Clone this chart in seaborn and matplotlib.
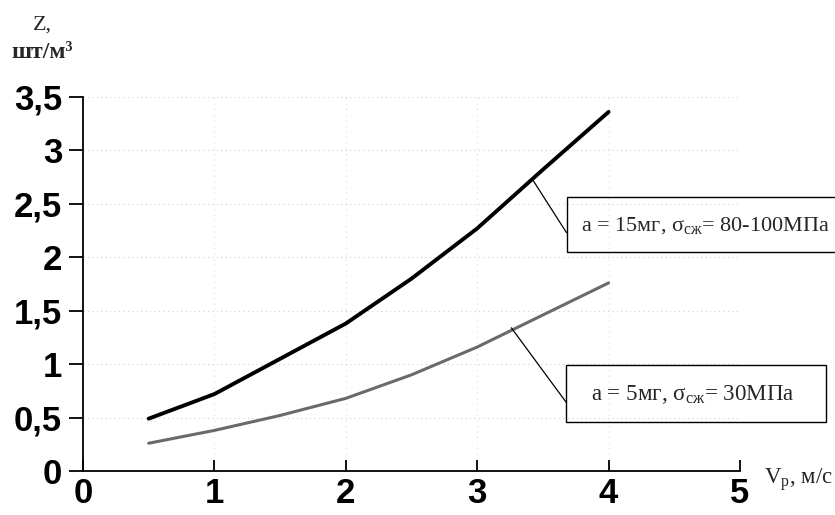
import numpy as np
import pandas as pd
import matplotlib
matplotlib.use("Agg")
import matplotlib.pyplot as plt
import seaborn as sns
from matplotlib.patches import Rectangle

# values
v_speed = [0.5, 1.0, 1.5, 2.0, 2.5, 3.0, 3.5, 4.0]
z_15mg = [0.49, 0.72, 1.05, 1.38, 1.80, 2.27, 2.82, 3.36]
z_5mg = [0.26, 0.38, 0.52, 0.68, 0.90, 1.16, 1.46, 1.76]
y_ticks = [0, 0.5, 1, 1.5, 2, 2.5, 3, 3.5]
y_tick_labels = ["0", "0,5", "1", "1,5", "2", "2,5", "3", "3,5"]
x_ticks = [0, 1, 2, 3, 4, 5]
label_15 = "a = 15мг, $\\mathrm{σ}_{\\mathrm{сж}}$= 80-100МПа"
label_5 = "a = 5мг, $\\mathrm{σ}_{\\mathrm{сж}}$= 30МПа"

sns.set_theme(style="white")
plt.rcParams["font.family"] = ["Liberation Serif", "DejaVu Serif"]
plt.rcParams["mathtext.fontset"] = "custom"
plt.rcParams["mathtext.rm"] = "Liberation Serif"
plt.rcParams["mathtext.it"] = "Liberation Serif:italic"

df = pd.DataFrame({"v": v_speed + v_speed,
                   "z": z_15mg + z_5mg,
                   "series": ["15"] * len(v_speed) + ["5"] * len(v_speed)})

fig = plt.figure(figsize=(8.35, 5.15), dpi=100)
ax = fig.add_axes([0.0994, 0.0854, 0.7868, 0.7263])

sns.lineplot(data=df[df.series == "15"], x="v", y="z", color="black", lw=2.8, ax=ax)
sns.lineplot(data=df[df.series == "5"], x="v", y="z", color="#6a6a6a", lw=2.2, ax=ax)

ax.set_xlim(0, 5)
ax.set_ylim(0, 3.5)
ax.set_xlabel("")
ax.set_ylabel("")
for s in ["top", "right"]:
    ax.spines[s].set_visible(False)
for s in ["left", "bottom"]:
    ax.spines[s].set_color("black")
    ax.spines[s].set_linewidth(1.3)

ax.set_yticks(y_ticks)
ax.set_yticklabels(y_tick_labels)
ax.set_xticks(x_ticks)
for lab in ax.get_xticklabels() + ax.get_yticklabels():
    lab.set_fontfamily("Liberation Sans")
    lab.set_fontweight("bold")
    lab.set_fontsize(25)
ax.tick_params(axis="y", direction="out", length=10, width=1.3, pad=5, colors="black", left=True)
ax.tick_params(axis="x", direction="in", length=8, width=1.3, pad=4, colors="black", bottom=True)

# faint dotted grid
for yv in y_ticks[1:]:
    ax.axhline(yv, color="#d0d0d0", lw=0.8, ls=(0, (1, 3)), zorder=0)
for xv in x_ticks[1:-1]:
    ax.axvline(xv, color="#dddddd", lw=0.8, ls=(0, (1, 4)), zorder=0)

# callout boxes
ax.add_patch(Rectangle((3.68, 2.05), 2.2, 0.514, fill=False, ec="black", lw=1.0, clip_on=False))
ax.text(3.79, 2.30, label_15, fontsize=16, va="center", ha="left", clip_on=False)
ax.annotate("", xy=(3.42, 2.73), xytext=(3.68, 2.23),
            arrowprops=dict(arrowstyle="-", color="black", lw=0.9, shrinkA=0, shrinkB=0),
            annotation_clip=False)

ax.add_patch(Rectangle((3.676, 0.458), 1.98, 0.533, fill=False, ec="black", lw=1.0, clip_on=False))
ax.text(3.87, 0.72, label_5, fontsize=16.6, va="center", ha="left", clip_on=False)
ax.annotate("", xy=(3.26, 1.34), xytext=(3.676, 0.645),
            arrowprops=dict(arrowstyle="-", color="black", lw=0.9, shrinkA=0, shrinkB=0),
            annotation_clip=False)

# axis titles
fig.text(0.051, 0.951, "Z,", fontsize=16, ha="center", va="center")
fig.text(0.051, 0.899, "шт/м³", fontsize=17, weight="bold", ha="center", va="center")
fig.text(0.915, 0.068, "$\\mathrm{V}_{\\mathrm{р}}$, м/с", fontsize=16.5, ha="left", va="center")

fig.savefig("out.png", dpi=100)
